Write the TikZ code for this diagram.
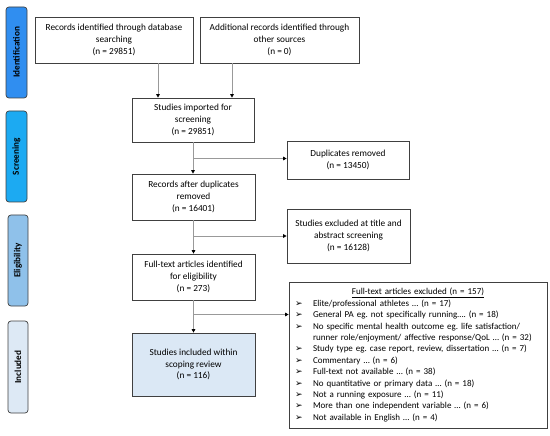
\documentclass[tikz,border=0pt]{standalone}
\usepackage{fontspec}
\setmainfont{Carlito}
\newfontfamily\dejavu{DejaVu Sans}
\usetikzlibrary{arrows.meta}
\definecolor{idc}{RGB}{48,142,240}
\definecolor{scc}{RGB}{28,170,242}
\definecolor{elc}{RGB}{143,193,234}
\definecolor{inc}{RGB}{221,233,245}
\definecolor{incbox}{RGB}{219,232,245}
\frenchspacing
\newcommand\itm[1]{\makebox[18pt][l]{\dejavu\fontsize{9}{8}\selectfont ➢}#1}
\begin{document}
\begin{tikzpicture}[x=1pt,y=-1pt,
  box/.style={draw=black!75, line width=0.7pt, align=center, inner sep=0pt,
    font=\fontsize{9.3}{11.6}\selectfont},
  stage/.style={draw=black!75, line width=0.7pt, rounded corners=3pt, rotate=90,
    inner sep=0pt, font=\bfseries\fontsize{9.2}{10}\selectfont},
  arr/.style={draw=black!40, line width=0.8pt, -{Triangle[length=3.5pt,width=3.5pt,color=black]}}]
\useasboundingbox (0,0) rectangle (550,436);
% stage labels
\node[stage, fill=idc, minimum width=91, minimum height=21] (sid) at (16.5,52.5) {Identification};
\node[stage, fill=scc, minimum width=91, minimum height=21] (ssc) at (16.5,156.5) {Screening};
\node[stage, fill=elc, minimum width=91, minimum height=20] (sel) at (18,260.5) {Eligibility};
\node[stage, fill=inc, minimum width=92, minimum height=20] (sin) at (18,367) {Included};
% boxes
\node[box, minimum width=158, minimum height=46] (idbox) at (114,40)
  {Records identified through database\\searching\\(n = 29851)};
\node[box, minimum width=159, minimum height=46] (other) at (279.5,40)
  {Additional records identified through\\other sources\\(n = 0)};
\node[box, minimum width=122, minimum height=44] (imported) at (193,120)
  {Studies imported for\\screening\\(n = 29851)};
\node[box, minimum width=122, minimum height=38] (dup) at (348,160)
  {Duplicates removed\\(n = 13450)};
\node[box, minimum width=123, minimum height=46] (after) at (193.5,197)
  {Records after duplicates\\removed\\(n = 16401)};
\node[box, minimum width=123, minimum height=54] (excl) at (348.5,236)
  {Studies excluded at title and\\abstract screening\\(n = 16128)};
\node[box, minimum width=123, minimum height=46] (fulltext) at (193.5,277)
  {Full-text articles identified\\for eligibility\\(n = 273)};
\node[box, fill=incbox, minimum width=123, minimum height=63] (incl) at (193.5,364.5)
  {Studies included within\\scoping review\\(n = 116)};
\node[box, minimum width=258, minimum height=146, text width=246, align=left,
  font=\fontsize{9}{11.4}\selectfont] (ftexcl) at (418,355)
  {\makebox[246pt][c]{\underline{Full-text articles excluded (n = 157)}}\\
   \itm{Elite/professional athletes … (n = 17)}\\
   \itm{General PA eg. not specifically running…. (n = 18)}\\
   \itm{No specific mental health outcome eg. life satisfaction/}\\
   \hspace*{18pt}runner role/enjoyment/ affective response/QoL … (n = 32)\\
   \itm{Study type eg. case report, review, dissertation … (n = 7)}\\
   \itm{Commentary … (n = 6)}\\
   \itm{Full-text not available … (n = 38)}\\
   \itm{No quantitative or primary data … (n = 18)}\\
   \itm{Not a running exposure … (n = 11)}\\
   \itm{More than one independent variable … (n = 6)}\\
   \itm{Not available in English … (n = 4)}};
% connectors
\coordinate (c1) at (158,0);
\coordinate (c2) at (232,0);
\coordinate (b1) at (0,158.5);
\coordinate (b3) at (0,314.5);
\draw[arr] (idbox.south -| c1) -- (imported.north -| c1);
\draw[arr] (other.south -| c2) -- (imported.north -| c2);
\draw[arr] (imported.south) -- (imported.south |- after.north);
\draw[arr] (imported.south |- b1) -- (dup.west |- b1);
\draw[arr] (after.south) -- (after.south |- fulltext.north);
\draw[arr] (after.south |- excl.west) -- (excl.west);
\draw[arr] (fulltext.south) -- (fulltext.south |- incl.north);
\draw[arr] (fulltext.south |- b3) -- (ftexcl.west |- b3);
\end{tikzpicture}
\end{document}
